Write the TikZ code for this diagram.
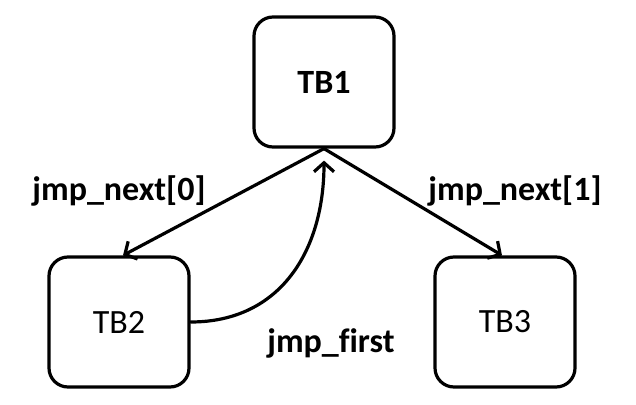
\documentclass[tikz,border=0pt]{standalone}
\usepackage{fontspec}
\setmainfont[Ligatures=NoCommon]{Carlito}
\usetikzlibrary{arrows.meta}
\usetikzlibrary{positioning}
\definecolor{tbink}{HTML}{000000}
\tikzset{
  tbbox/.style={
    draw=tbink, minimum width=140pt, minimum height=130pt, inner sep=0pt,
    line width=3.2pt, rounded corners=19pt,
    font=\fontsize{34}{40}\selectfont},
  tbarrow/.style={-{Straight Barb[length=9pt, width=20pt]}, draw=tbink,
    line width=3.2pt},
  tblabel/.style={anchor=base, inner sep=0pt,
    font=\fontsize{34}{40}\selectfont\bfseries, text=tbink},
  every picture/.style={line cap=round},
}
\begin{document}
\begin{tikzpicture}[x=1pt, y=-1pt]
\useasboundingbox (0, 0) rectangle (636, 404);

% Translation blocks.
\node[tbbox, font=\fontsize{34}{40}\selectfont\bfseries] (tb1)
  at (324, 82) {TB1};
\node[tbbox] (tb2) at (119, 322) {TB2};
\node[tbbox] (tb3) at (505, 322) {TB3};

% Direct jumps out of TB1.
\draw[tbarrow] (tb1.south) -- ([xshift=4pt]tb2.north);
\draw[tbarrow] (tb1.south) -- ([xshift=-3pt]tb3.north);
\node[tblabel] (next0) at (119, 200) {jmp\_next[0]};
\node[tblabel] (next1) at (515, 200) {jmp\_next[1]};

% Back link to the first jumping block.
\coordinate (firsttip) at ([yshift=-12pt]tb1.south);
\draw[tbarrow] (tb2.east) to[out=0, in=-90, looseness=1.1] (firsttip);
\node[tblabel] (first) at (331, 352) {jmp\_first};

\end{tikzpicture}
\end{document}
